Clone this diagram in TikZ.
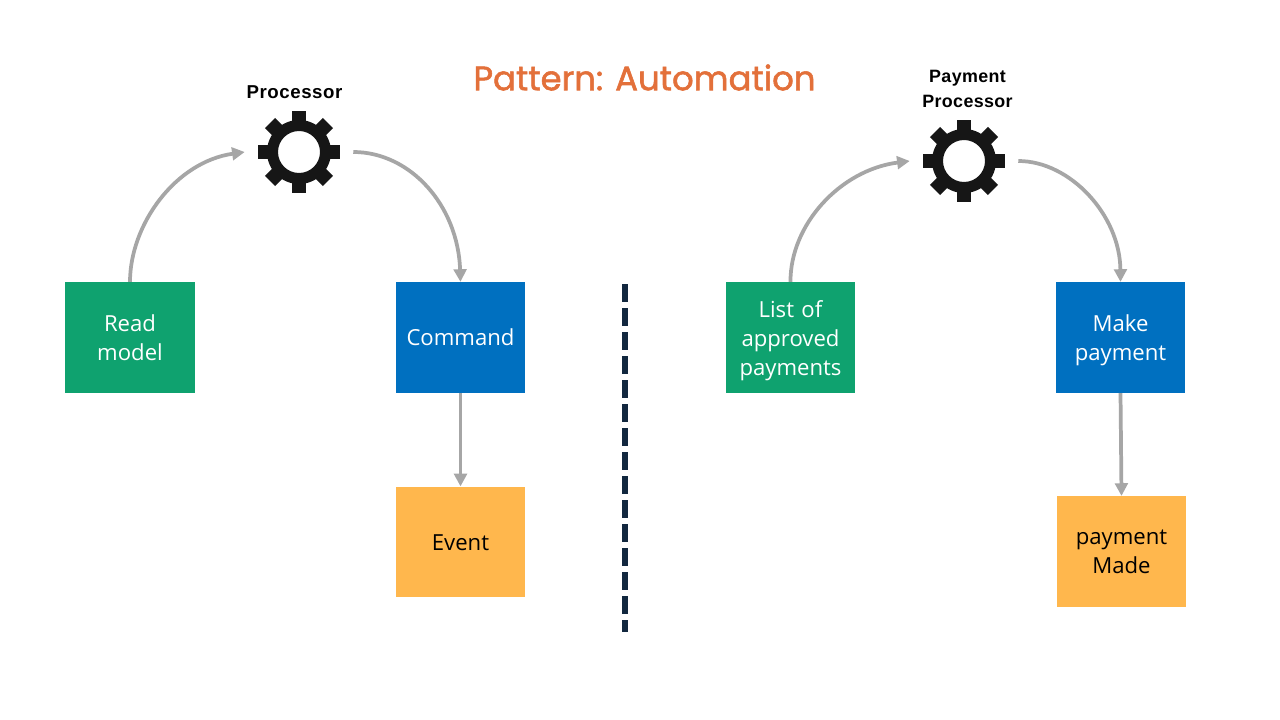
\documentclass[tikz,border=0pt]{standalone}
\usepackage{fontspec}
\setmainfont{Open Sans}
\newfontfamily\titlefont[FakeBold=1.6]{Poppins}
\newfontfamily\capfont[LetterSpace=3]{Liberation Sans}
\newfontfamily\capfontb[LetterSpace=2]{Liberation Sans}
\usetikzlibrary{arrows.meta}
\definecolor{cgreen}{HTML}{0FA26F}
\definecolor{cblue}{HTML}{0070C0}
\definecolor{corange}{HTML}{FFB74D}
\definecolor{ctitle}{HTML}{E3703A}
\definecolor{cdash}{HTML}{12283F}
\definecolor{cline}{HTML}{A6A6A6}
\definecolor{cgear}{HTML}{161616}
\tikzset{
  x=0.75pt,y=-0.75pt,
  card/.style={minimum width=97pt,minimum height=83pt,inner sep=0pt,align=center,text width=97pt,
    font=\fontsize{16.6}{21.75}\selectfont},
  readcard/.style={card,fill=cgreen,text=white},
  cmdcard/.style={card,fill=cblue,text=white},
  evtcard/.style={card,fill=corange,text=black},
  gearbox/.style={minimum width=81pt,minimum height=81pt,inner sep=0pt},
  caption/.style={font=\capfont\bfseries\fontsize{14}{18}\selectfont,align=center,text=black},
  captionb/.style={font=\capfontb\bfseries\fontsize{13.4}{18.75}\selectfont,align=center,text=black},
  flow/.style={draw=cline,line width=2.8pt,-{Triangle[length=9.5pt,width=9.5pt]}},
  divider/.style={draw=cdash,line width=4.5pt,dash pattern=on 13.5pt off 4.5pt}
}
\newcommand{\gearat}[1]{%
  \begin{scope}[shift={(#1)}]
    \fill[cgear,even odd rule]
      (0,0) circle[radius=32]
      (0,0) circle[radius=21];
    \foreach \a in {0,45,...,315}{
      \fill[cgear,rotate=\a] (-7.2,-41) rectangle (7.2,-27);
    }
  \end{scope}}
\begin{document}
\begin{tikzpicture}
\useasboundingbox (0,0) rectangle (1280,720);
\fill[white] (0,0) rectangle (1280,720);

\node[font=\titlefont\fontsize{25.4}{28}\selectfont,text=ctitle] (title) at (644.5,77.5) {Pattern: Automation};

\node[gearbox] (g1) at (299,152) {};
\node[gearbox] (g2) at (964,161) {};
\gearat{g1}
\gearat{g2}
\node[caption] (c1) at (294.5,92.5) {Processor};
\node[captionb] (c2) at (967.5,89) {Payment\\Processor};

\node[readcard,minimum width=97.5pt] (rm) at (130,337.5) {Read\\model};
\node[cmdcard] (cmd) at (460.5,337.5) {Command};
\node[evtcard] (evt) at (460.5,542) {\rule{0pt}{13.4pt}Event};
\node[readcard] (lap) at (790.5,337.5) {\rule{0pt}{17.1pt}List of\\approved\\payments};
\node[cmdcard] (mp) at (1120.5,337.5) {\rule{0pt}{17.1pt}Make\\payment};
\node[evtcard] (pm) at (1121.5,551.5) {payment\\Made};

\draw[flow] (rm.north) .. controls (130,225) and (175,162) .. (g1.west);
\draw[flow] (g1.east) .. controls (410,152) and (458,205) .. (cmd.north);
\draw[flow] (cmd.south) -- (evt.north);
\draw[flow] (lap.north) .. controls (790,225) and (840,170) .. (g2.west);
\draw[flow] (g2.east) .. controls (1070,161) and (1120,215) .. (mp.north);
\draw[flow] (mp.south) -- (pm.north);

\coordinate (d1) at (625,284);
\coordinate (d2) at (625,632);
\draw[divider] (d1) -- (d2);
\end{tikzpicture}
\end{document}
